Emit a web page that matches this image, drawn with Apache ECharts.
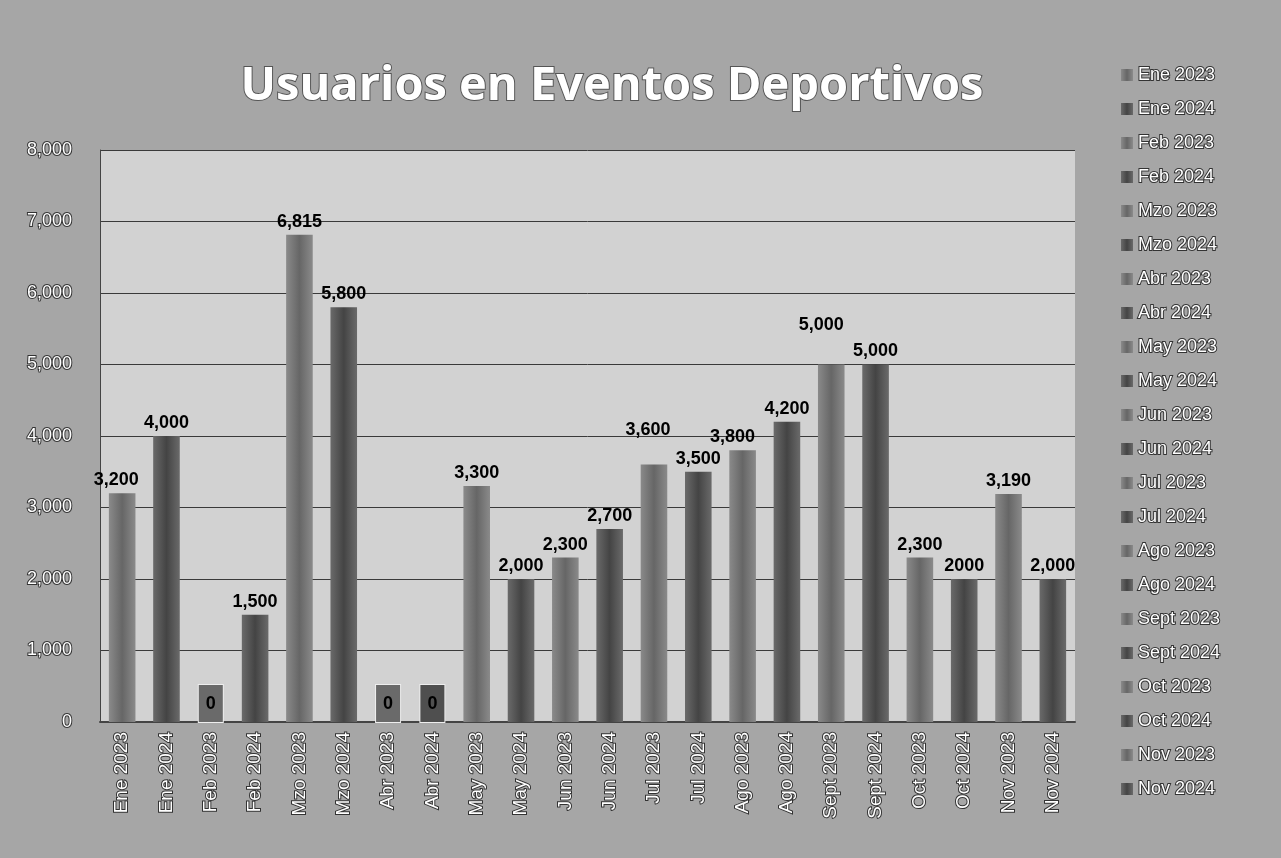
<!DOCTYPE html>
<html><head><meta charset="utf-8">
<script src="https://cdn.jsdelivr.net/npm/echarts@6/dist/echarts.min.js"></script>
<style>html,body{margin:0;padding:0;background:#a6a6a6;}#c{width:1281px;height:858px;}</style>
</head><body><div id="c"></div>
<script>
const categories = ["Ene 2023","Ene 2024","Feb 2023","Feb 2024","Mzo 2023","Mzo 2024","Abr 2023","Abr 2024","May 2023","May 2024","Jun 2023","Jun 2024","Jul 2023","Jul 2024","Ago 2023","Ago 2024","Sept 2023","Sept 2024","Oct 2023","Oct 2024","Nov 2023","Nov 2024"];
const values = [3200,4000,0,1500,6815,5800,0,0,3300,2000,2300,2700,3600,3500,3800,4200,5000,5000,2300,2000,3190,2000];
const valueLabels = ["3,200","4,000","0","1,500","6,815","5,800","0","0","3,300","2,000","2,300","2,700","3,600","3,500","3,800","4,200","5,000","5,000","2,300","2000","3,190","2,000"];
const yTicks = [0,1000,2000,3000,4000,5000,6000,7000,8000];

const labelOffsets = {12:[-6,-22], 14:[-10,0], 16:[-10,-26], 0:[-6,0]};
const outline = {color:'#ffffff', textBorderColor:'#333333', textBorderWidth:2};
function barColor(i){
  const c = (i % 2 === 0) ? ['#8a8a8a','#666666','#8a8a8a'] : ['#6a6a6a','#444444','#6a6a6a'];
  return {type:'linear',x:0,y:0,x2:1,y2:0,colorStops:[{offset:0,color:c[0]},{offset:0.5,color:c[1]},{offset:1,color:c[2]}]};
}
const series = categories.map((name, i) => {
  const data = categories.map((_, j) => j === i ? values[i] : '-');
  const zero = values[i] === 0;
  return {
    name: name, type:'bar', stack:'all', barWidth:'60%', data: data,
    itemStyle:{color: barColor(i)},
    label:{
      show:true,
      position: zero ? 'insideBottom' : 'top',
      distance: zero ? 0 : 4,
      offset: labelOffsets[i] || [0,0],
      formatter: () => valueLabels[i],
      color:'#000', fontWeight:'bold', fontSize:18, fontFamily:'Liberation Sans, Arial, sans-serif',
      backgroundColor: zero ? (i % 2 === 0 ? '#6a6a6a' : '#4f4f4f') : 'transparent',
      padding: zero ? [10,7,9,7] : 0,
      borderColor: zero ? '#eeeeee' : 'transparent', borderWidth: zero ? 1 : 0
    }
  };
});
const chart = echarts.init(document.getElementById('c'));
chart.setOption({
  backgroundColor:'#a6a6a6',
  animation:false,
  title:{text:'Usuarios en Eventos Deportivos', left:607, top:58, textAlign:'center',
    textStyle:{fontSize:47, fontWeight:'bold', fontFamily:'Open Sans, sans-serif', color:'#ffffff', textBorderColor:'#555', textBorderWidth:2}},
  legend:{orient:'vertical', left:1116, top:60, itemWidth:12, itemHeight:12, itemGap:14,
    icon:'rect', data:categories,
    textStyle:Object.assign({fontSize:18, fontFamily:'Liberation Sans, Arial, sans-serif'}, outline)},
  grid:{left:100, right:206, top:150, bottom:136, show:true, backgroundColor:'#d2d2d2', borderColor:'#d2d2d2', borderWidth:0},
  xAxis:{type:'category', data:categories,
    axisLine:{lineStyle:{color:'#444', width:2}}, axisTick:{show:false},
    axisLabel:Object.assign({rotate:90, fontSize:19, interval:0, margin:10, fontFamily:'Liberation Sans, Arial, sans-serif'}, outline)},
  yAxis:{type:'value', min:0, max:8000, interval:1000,
    axisLine:{show:true, lineStyle:{color:'#444', width:1}},
    splitLine:{lineStyle:{color:'#3a3a3a', width:1}},
    axisLabel:Object.assign({fontSize:18, margin:28, fontFamily:'Liberation Sans, Arial, sans-serif',
      formatter: v => yTicks.includes(v) ? v.toLocaleString('en-US') : ''}, outline)},
  series: series
});
</script></body></html>
